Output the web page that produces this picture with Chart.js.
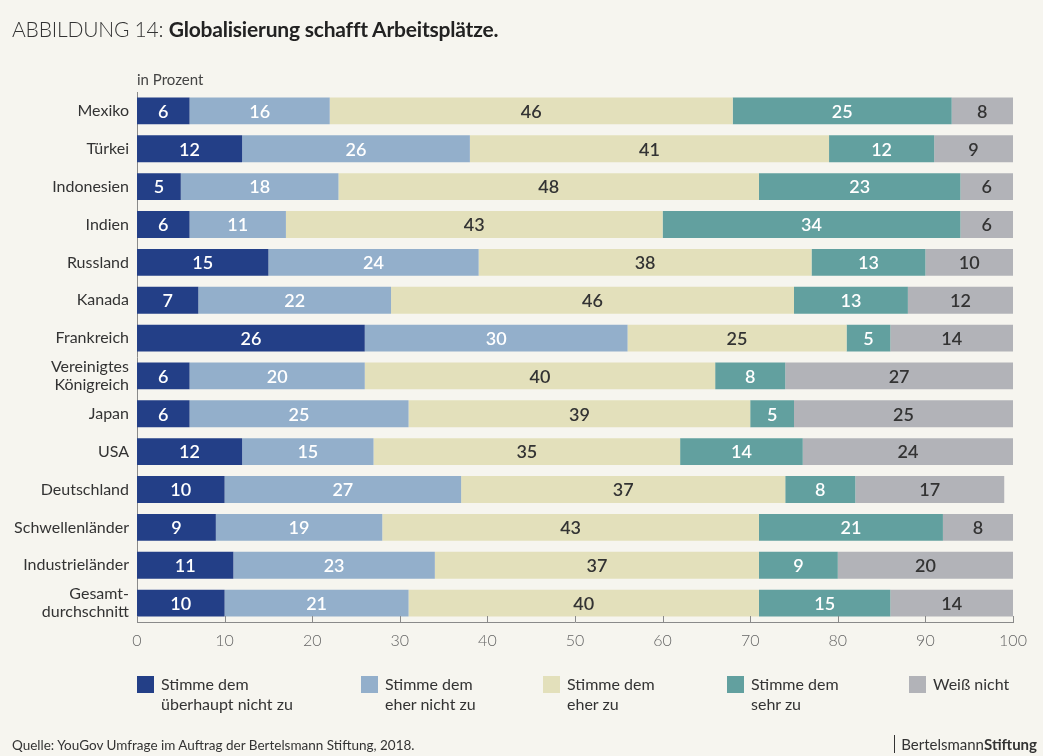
<!DOCTYPE html>
<html lang="de">
<head>
<meta charset="utf-8">
<script src="https://cdn.jsdelivr.net/npm/chart.js@4/dist/chart.umd.min.js"></script>
<style>
  html, body { margin: 0; padding: 0; background: #f6f5ef; }
  body { width: 1043px; height: 756px; position: relative; overflow: hidden; font-family: Lato, sans-serif; color: #333; }
  #wrap { position: absolute; left: 0; top: 0; width: 1043px; height: 756px; }
  .title { position: absolute; left: 12px; top: 16px; font-size: 21px; white-space: nowrap; letter-spacing: -0.2px; }
  .title .pre { font-weight: 300; color: #333; }
  .title b { font-weight: 700; color: #222; }
  .unit { position: absolute; left: 137px; top: 70px; font-size: 15px; color: #444; }
  .legend-item { position: absolute; top: 674px; display: flex; font-size: 16px; line-height: 20px; color: #333; }
  .legend-item .box { width: 17px; height: 17px; margin-right: 7px; margin-top: 2px; flex: none; }
  .source { position: absolute; left: 12px; top: 737px; font-size: 13.5px; color: #333; }
  .brand { position: absolute; right: 6px; top: 735px; font-size: 15px; color: #333; border-left: 1px solid #333; padding-left: 6px; line-height: 18px; }
  .brand b { font-weight: 700; }
</style>
</head>
<body>
<div id="wrap"><canvas id="surveyChart" width="1043" height="756"></canvas></div>
<div class="title"><span class="pre">ABBILDUNG 14:</span> <b>Globalisierung schafft Arbeitsplätze.</b></div>
<div class="unit">in Prozent</div>
<div id="legend"></div>
<div class="source">Quelle: YouGov Umfrage im Auftrag der Bertelsmann Stiftung, 2018.</div>
<div class="brand">Bertelsmann<b>Stiftung</b></div>
<script>
// Länder / Ländergruppen
const countries = [
  'Mexiko', 'Türkei', 'Indonesien', 'Indien', 'Russland', 'Kanada', 'Frankreich',
  ['Vereinigtes', 'Königreich'], 'Japan', 'USA', 'Deutschland', 'Schwellenländer',
  'Industrieländer', ['Gesamt-', 'durchschnitt'],
];

// Antworten in Prozent
const stronglyDisagree = [6, 12, 5, 6, 15, 7, 26, 6, 6, 12, 10, 9, 11, 10];
const ratherDisagree   = [16, 26, 18, 11, 24, 22, 30, 20, 25, 15, 27, 19, 23, 21];
const ratherAgree      = [46, 41, 48, 43, 38, 46, 25, 40, 39, 35, 37, 43, 37, 40];
const stronglyAgree    = [25, 12, 23, 34, 13, 13, 5, 8, 5, 14, 8, 21, 9, 15];
const dontKnow         = [8, 9, 6, 6, 10, 12, 14, 27, 25, 24, 17, 8, 20, 14];

const xTicks = [0, 10, 20, 30, 40, 50, 60, 70, 80, 90, 100];

const seriesNames = [
  ['Stimme dem', 'überhaupt nicht zu'],
  ['Stimme dem', 'eher nicht zu'],
  ['Stimme dem', 'eher zu'],
  ['Stimme dem', 'sehr zu'],
  ['Weiß nicht'],
];
const seriesColors = ['#233f87', '#93afcb', '#e3e0bb', '#62a09f', '#b2b3b8'];
const labelColors = ['#ffffff', '#ffffff', '#333333', '#ffffff', '#333333'];
const legendLeft = [137, 361, 543, 727, 909];

const seriesData = [stronglyDisagree, ratherDisagree, ratherAgree, stronglyAgree, dontKnow];

Chart.defaults.font.family = 'Lato, sans-serif';

// Zahlen mittig in die Balkensegmente schreiben
const valueLabels = {
  id: 'valueLabels',
  afterDatasetsDraw(chart) {
    const ctx = chart.ctx;
    ctx.save();
    ctx.font = '600 18px Lato, sans-serif';
    ctx.textAlign = 'center';
    ctx.textBaseline = 'middle';
    chart.data.datasets.forEach((ds, i) => {
      chart.getDatasetMeta(i).data.forEach((bar, j) => {
        const right = Math.min(bar.x, chart.chartArea.right);
        ctx.fillStyle = labelColors[i];
        ctx.fillText(ds.data[j], (right + bar.base) / 2, bar.y + 1);
      });
    });
    ctx.restore();
  },
};

// kleine Striche auf der x-Achse nach oben
const axisTicks = {
  id: 'axisTicks',
  afterDraw(chart) {
    const ctx = chart.ctx;
    const xs = chart.scales.x;
    const bottom = chart.chartArea.bottom;
    ctx.save();
    ctx.strokeStyle = '#8a8a8a';
    ctx.lineWidth = 1;
    xs.ticks.forEach((t) => {
      const px = Math.round(xs.getPixelForValue(t.value)) + 0.5;
      ctx.beginPath();
      ctx.moveTo(px, bottom);
      ctx.lineTo(px, bottom - 6);
      ctx.stroke();
    });
    ctx.restore();
  },
};

const surveyChart = new Chart(document.getElementById('surveyChart'), {
  type: 'bar',
  data: {
    labels: countries,
    datasets: seriesData.map((data, i) => ({
      label: seriesNames[i].join(' '),
      data: data,
      backgroundColor: seriesColors[i],
      borderWidth: 0,
      barPercentage: 0.71,
      categoryPercentage: 1,
    })),
  },
  options: {
    indexAxis: 'y',
    responsive: false,
    animation: false,
    layout: { padding: { left: 0, right: 30, top: 92, bottom: 104 } },
    plugins: {
      legend: { display: false },
      tooltip: { enabled: false },
    },
    scales: {
      x: {
        stacked: true,
        min: 0,
        max: 100,
        afterFit: (axis) => { axis.height = 30; },
        afterBuildTicks: (axis) => { axis.ticks = xTicks.map((v) => ({ value: v })); },
        grid: { display: false, drawTicks: false },
        border: { display: true, color: '#8a8a8a', width: 1 },
        ticks: { padding: 9, color: '#666', font: { size: 16, weight: 300 } },
      },
      y: {
        stacked: true,
        afterFit: (axis) => { axis.width = 137; },
        grid: { display: false, drawTicks: false },
        border: { display: true, color: '#8a8a8a', width: 1 },
        ticks: { autoSkip: false, padding: 8, color: '#333', font: { size: 16, lineHeight: 1.15 } },
      },
    },
  },
  plugins: [valueLabels, axisTicks],
});

// Legende als HTML aus den Datenreihen
const legendEl = document.getElementById('legend');
seriesNames.forEach((lines, i) => {
  const item = document.createElement('div');
  item.className = 'legend-item';
  item.style.left = legendLeft[i] + 'px';
  const box = document.createElement('div');
  box.className = 'box';
  box.style.background = seriesColors[i];
  const txt = document.createElement('div');
  txt.innerHTML = lines.join('<br>');
  item.appendChild(box);
  item.appendChild(txt);
  legendEl.appendChild(item);
});
</script>
</body>
</html>
